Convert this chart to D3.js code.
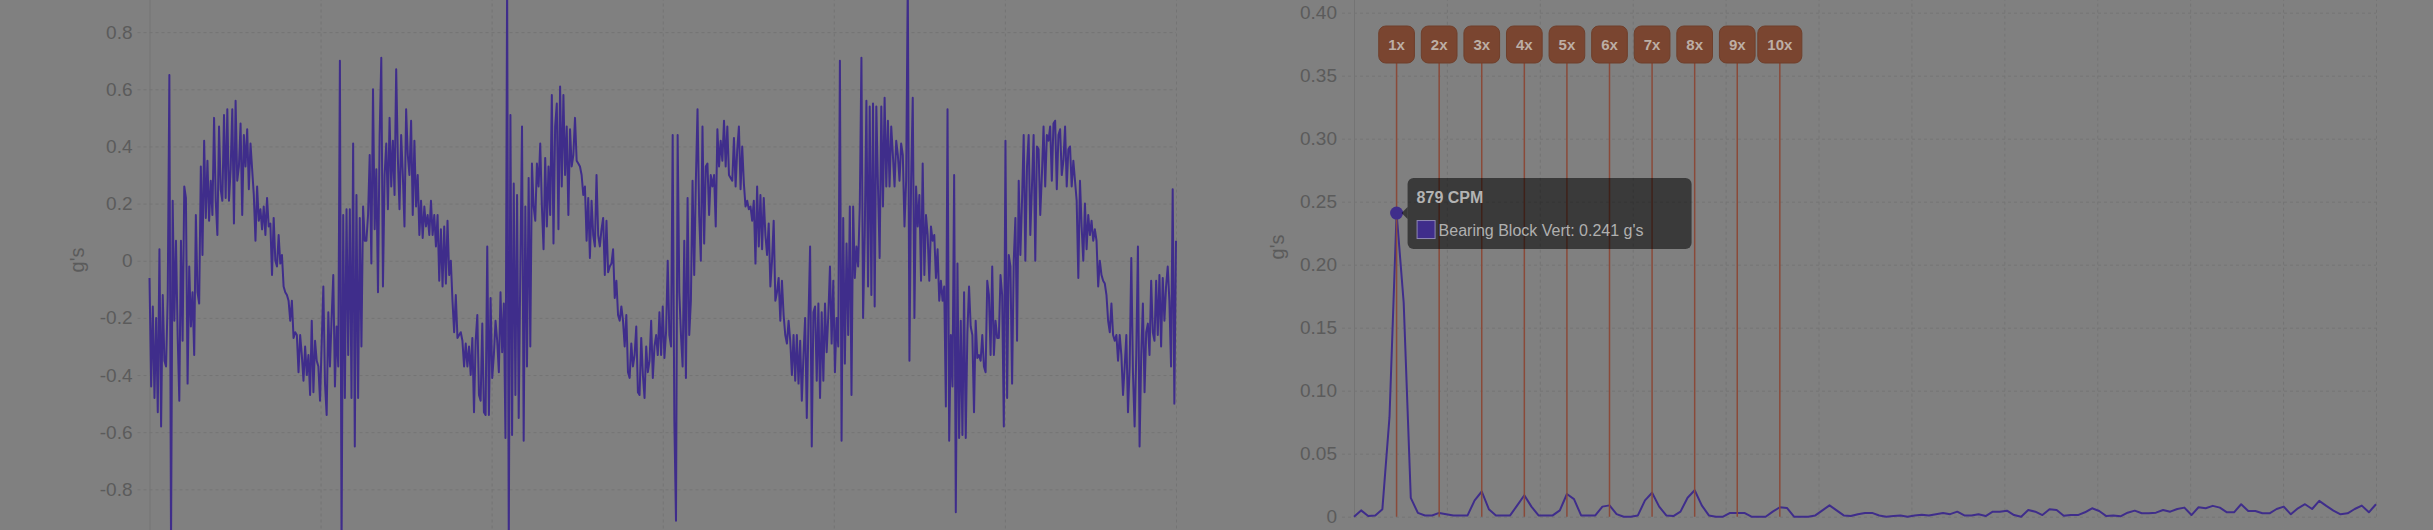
<!DOCTYPE html>
<html>
<head>
<meta charset="utf-8">
<script src="https://cdn.jsdelivr.net/npm/d3@7"></script>
<style>
  html, body { margin: 0; padding: 0; background: #808080; overflow: hidden; }
  svg { display: block; font-family: 'Liberation Sans', Arial, Helvetica, sans-serif; }
</style>
</head>
<body>
<div id="chart"></div>
<script>
// Time waveform, g's in four stretches (left to right)
var waveA = [-0.06,-0.44,-0.16,-0.48,-0.20,-0.53,0.04,-0.58,-0.12,-0.35,
  -0.37,-0.13,0.65,-1.0,0.21,-0.21,0.07,-0.26,-0.49,0.07,
  -0.28,0.26,0.22,-0.43,-0.02,-0.23,-0.11,-0.33,0.16,-0.11,
  -0.15,0.33,0.02,0.42,0.15,0.35,0.14,0.28,0.16,0.50,
  0.21,0.09,0.47,0.25,0.21,0.51,0.22,0.53,0.21,0.32,
  0.53,0.13,0.56,0.28,0.33,0.48,0.16,0.44,0.33,0.46,
  0.25,0.41,0.32,0.23,0.07,0.26,0.14,0.18,0.11,0.19,
  0.09,0.22,0.12,0.13,-0.05,0.15,0.0,-0.02,0.09,-0.01,
  0.02,-0.09,-0.11,-0.12,-0.14,-0.21,-0.14,-0.27,-0.25,-0.26,
  -0.39,-0.26,-0.33,-0.42,-0.30,-0.40,-0.33,-0.47,-0.21,-0.46,
  -0.28,-0.35,-0.37,-0.49,-0.29,-0.09,-0.43,-0.54,-0.18,-0.37,
  -0.20,-0.05,-0.44,-0.23,-0.37,0.70,-1.0,0.16,-0.48,0.18,
  -0.33,0.18,-0.48,0.41,-0.65,0.23,-0.48,0.15,-0.30,0.19,
  0.07,0.07,0.16,0.37,-0.01,0.60,0.11,0.32,-0.11,0.44,
  0.71,-0.09,0.30,0.41,0.18,0.50,0.26,0.42,0.23,0.67,
  0.36,0.18,0.44,0.30,0.12,0.53,0.37,0.30]

var waveB = [0.49,0.16,0.42,0.19,0.30,0.09,0.21,0.08,0.19,0.12,
  0.16,0.09,0.21,0.09,0.16,0.05,0.16,-0.07,0.11,-0.09,
  0.12,-0.08,0.14,-0.05,0.0,-0.14,-0.25,-0.12,-0.27,-0.26,
  -0.25,-0.28,-0.37,-0.29,-0.37,-0.30,-0.40,-0.27,-0.53,-0.28,
  -0.19,-0.47,-0.49,-0.22,-0.53,-0.54,0.05,-0.54,-0.13,-0.41,
  -0.33,-0.21,-0.28,-0.39,-0.11,-0.32,-0.15,-0.62,0.98,-1.0,
  0.51,-0.61,0.27,-0.47,0.23,-0.55,-0.02,0.47,-0.63,0.19,
  -0.37,0.29,-0.30,0.34,0.19,0.14,0.34,0.26,0.41,0.19,
  0.04,0.36,0.12,0.33,0.16,0.58,0.06,0.47,0.55,0.11,
  0.61,0.26,0.58,0.30,0.47,0.16,0.46,0.33,0.37,0.50,
  0.35,0.34,0.33,0.30,0.23,0.26,0.07,0.22,0.01,0.21,
  0.09,0.05,0.30,0.09,0.05,0.11,0.15,-0.05,0.14,-0.04,
  -0.02,-0.01,0.04,-0.13,-0.07,-0.19,-0.21,-0.16,-0.21,-0.30,
  -0.19,-0.39,-0.41,-0.29,-0.37,-0.33,-0.23,-0.46,-0.47,-0.27,
  -0.40,-0.48,-0.30,-0.39,-0.35,-0.21,-0.41,-0.30,-0.26,-0.33,
  -0.18,-0.33,-0.16,-0.34,-0.25,0.0,-0.26]

var waveC = [-0.30,0.44,-0.56,-0.91,0.44,-0.11,-0.26,-0.37,0.07,-0.41,
  0.22,-0.26,-0.14,0.28,-0.05,0.28,0.53,0.16,0.0,0.47,
  0.06,0.33,0.34,0.16,0.30,0.26,0.30,0.12,0.46,0.33,
  0.42,0.35,0.49,0.33,0.47,0.30,0.29,0.28,0.43,0.26,
  0.39,0.47,0.25,0.40,0.27,0.19,0.21,0.18,0.19,0.14,
  0.21,-0.01,0.26,0.05,0.23,0.04,0.22,0.09,0.02,0.13,
  -0.09,0.0,0.14,-0.14,-0.11,-0.06,-0.21,-0.07,-0.19,-0.26,
  -0.29,-0.21,-0.28,-0.40,-0.26,-0.42,-0.26,-0.43,-0.28,-0.49,
  -0.33,-0.20,-0.55,-0.21,0.05,-0.65,-0.18,-0.16,-0.42,-0.15,
  -0.48,-0.18,-0.42,-0.15,-0.32,-0.19,-0.02,-0.29,-0.07,-0.39,
  -0.20,-0.30,0.70,-0.63,0.15,-0.36,0.06,-0.26,0.19,-0.47,
  0.19,-0.06,0.05,-0.02,0.19,0.71,-0.20,0.09,0.56,-0.09,
  0.54,-0.12,0.55,-0.16,0.54,0.26,0.01,0.54,0.19,0.57,
  0.26,0.49,0.26,0.47,0.37,0.26,0.42,0.37,0.28,0.41,
  0.37,0.12,0.28,0.98,-0.35,0.28,0.57,-0.20,0.26,0.12,
  0.23,-0.07,0.34,-0.05,0.16,0.09]

var waveD = [-0.07,0.12,0.07,0.09,-0.06,0.04,-0.14,-0.07,-0.14,-0.09,
  -0.51,0.53,-0.63,-0.26,-0.44,0.30,-0.88,-0.01,-0.62,-0.21,
  -0.61,-0.11,-0.62,-0.25,-0.09,-0.23,-0.26,-0.53,-0.21,-0.34,
  -0.33,-0.35,-0.26,-0.37,-0.39,-0.07,-0.12,-0.33,-0.02,-0.33,
  -0.21,-0.27,-0.27,-0.05,-0.12,-0.58,0.42,-0.48,0.02,-0.02,
  -0.43,0.0,0.15,-0.28,0.28,0.02,0.21,0.44,0.0,0.33,
  0.44,0.09,0.26,0.44,0.0,0.40,0.39,0.16,0.30,0.47,
  0.26,0.44,0.42,0.47,0.28,0.48,0.49,0.25,0.44,0.46,
  0.30,0.35,0.47,0.26,0.39,0.40,0.26,0.35,0.28,0.21,
  -0.06,0.28,0.12,0.0,0.20,0.04,0.16,0.09,0.14,0.07,
  0.11,0.07,-0.09,0.0,-0.05,-0.07,-0.08,-0.12,-0.21,-0.25,
  -0.15,-0.26,-0.28,-0.26,-0.35,-0.26,-0.33,-0.47,-0.37,-0.26,
  -0.53,-0.37,0.01,-0.39,-0.58,-0.33,0.05,-0.65,-0.33,-0.15,
  -0.46,-0.25,-0.22,-0.33,-0.07,-0.25,-0.28,-0.07,-0.26,-0.05,
  -0.30,-0.06,-0.21,-0.09,-0.02,-0.14,-0.37,0.25,-0.50,0.07]

// Spectrum amplitudes, g's, one value per bin
var spectrum = [0.0,0.005,0.0005,0.001,0.006,0.079,0.241,0.17,0.015,0.003,
  0.001,0.001,0.003,0.002,0.001,0.001,0.001,0.013,0.020,0.006,
  0.001,0.001,0.001,0.009,0.017,0.008,0.001,0.001,0.001,0.005,
  0.018,0.014,0.001,0.001,0.001,0.008,0.009,0.002,0.0,0.0,
  0.001,0.013,0.019,0.008,0.001,0.0005,0.004,0.015,0.021,0.009,
  0.001,0.0,0.0,0.003,0.003,0.003,0.0,0.0,0.0,0.004,
  0.0075,0.007,0.0,0.0,0.0,0.001,0.005,0.009,0.005,0.001,
  0.0005,0.002,0.003,0.003,0.001,0.0,0.0005,0.001,0.0,0.001,
  0.0015,0.001,0.002,0.003,0.002,0.004,0.001,0.001,0.002,0.0005,
  0.004,0.004,0.0048,0.0013,0.0,0.0053,0.004,0.0013,0.0059,0.0053,
  0.0008,0.0013,0.0013,0.0035,0.0067,0.0045,0.0005,0.001,0.0003,0.0032,
  0.0048,0.0027,0.0027,0.0032,0.0053,0.004,0.0061,0.0072,0.0013,0.0075,
  0.0067,0.0086,0.0072,0.0035,0.0035,0.0099,0.0045,0.0045,0.0027,0.0027,
  0.0061,0.008,0.0019,0.0067,0.0099,0.0061,0.0126,0.0086,0.0048,0.0019,
  0.0027,0.0061,0.0088,0.0035,0.0099]
var binCPM = 146.5

// Running speed and harmonic markers
var runSpeed = 879
var harmonics = ['1x', '2x', '3x', '4x', '5x', '6x', '7x', '8x', '9x', '10x']

// Axis ticks (the +/-1 lines fall outside the visible window)
var waveTicks = [-0.8, -0.6, -0.4, -0.2, 0, 0.2, 0.4, 0.6, 0.8]
var specTicks = [0, 0.05, 0.1, 0.15, 0.2, 0.25, 0.3, 0.35, 0.4]
var unitLabel = "g's"

// Tooltip
var seriesName = 'Bearing Block Vert'
var tipBin = 6

var wave = waveA.concat(waveB, waveC, waveD)

var W = 2433
var H = 530
var lineColor = '#3f2d8b'
var textColor = '#5b5b5b'
var gridColor = '#747474'

var svg = d3
  .select('#chart')
  .append('svg')
  .attr('width', W)
  .attr('height', H)

svg
  .append('rect')
  .attr('width', W)
  .attr('height', H)
  .attr('fill', '#808080')

// ---------- left: time waveform ----------
var xWave = d3
  .scaleLinear()
  .domain([0, wave.length - 1])
  .range([149.5, 1176])

var yWave = d3
  .scaleLinear()
  .domain([-1, 1])
  .range([546.5, -25])

var waveG = svg.append('g')

// horizontal grid + labels
var yAxisL = d3
  .axisLeft(yWave)
  .tickValues(waveTicks)
  .tickSize(-(1176 - 149.5))
  .tickPadding(17)
  .tickFormat(d => (d === 0 ? '0' : String(+d.toFixed(1))))

waveG
  .append('g')
  .attr('transform', 'translate(149.5,0)')
  .call(yAxisL)
  .call(g => g.select('.domain').remove())
  .call(g =>
    g
      .selectAll('.tick line')
      .attr('x1', -12)
      .attr('stroke', gridColor)
      .attr('stroke-dasharray', '3,3')
  )
  .call(g =>
    g
      .selectAll('.tick text')
      .attr('fill', textColor)
      .attr('font-size', 19)
      .attr('font-family', null)
  )

// vertical grid
var xAxisL = d3
  .axisBottom(xWave)
  .tickValues(d3.range(7).map(k => (k * (wave.length - 1)) / 6))
  .tickSize(-(546.5 + 30))
  .tickFormat('')

waveG
  .append('g')
  .attr('transform', 'translate(0,546.5)')
  .call(xAxisL)
  .call(g => g.select('.domain').remove())
  .call(g =>
    g
      .selectAll('.tick line')
      .attr('stroke', gridColor)
      .attr('stroke-dasharray', (d, i) => (i === 0 ? null : '3,3'))
  )

waveG
  .append('text')
  .text(unitLabel)
  .attr('transform', 'translate(77,260) rotate(-90)')
  .attr('text-anchor', 'middle')
  .attr('dominant-baseline', 'central')
  .attr('font-size', 20)
  .attr('fill', textColor)

var waveLine = d3
  .line()
  .x((d, i) => xWave(i))
  .y(d => yWave(d))

waveG
  .append('path')
  .datum(wave)
  .attr('d', waveLine)
  .attr('fill', 'none')
  .attr('stroke', lineColor)
  .attr('stroke-width', 2)
  .attr('stroke-linejoin', 'round')

// ---------- right: spectrum ----------
var maxCPM = (spectrum.length - 1) * binCPM

var xSpec = d3
  .scaleLinear()
  .domain([0, maxCPM])
  .range([1354, 2376])

var ySpec = d3
  .scaleLinear()
  .domain([0, 0.4])
  .range([516.7, 12.7])

var specG = svg.append('g')

var yAxisR = d3
  .axisLeft(ySpec)
  .tickValues(specTicks)
  .tickSize(-(2376 - 1354))
  .tickPadding(17)
  .tickFormat(d => (d === 0 ? '0' : d.toFixed(2)))

specG
  .append('g')
  .attr('transform', 'translate(1354,0)')
  .call(yAxisR)
  .call(g => g.select('.domain').remove())
  .call(g =>
    g
      .selectAll('.tick line')
      .attr('x1', -12)
      .attr('stroke', gridColor)
      .attr('stroke-dasharray', '3,3')
  )
  .call(g =>
    g
      .selectAll('.tick text')
      .attr('fill', textColor)
      .attr('font-size', 19)
      .attr('font-family', null)
  )

var xAxisR = d3
  .axisBottom(xSpec)
  .tickValues(d3.range(12).map(k => (k * maxCPM) / 11))
  .tickSize(-(516.7 + 30))
  .tickFormat('')

specG
  .append('g')
  .attr('transform', 'translate(0,516.7)')
  .call(xAxisR)
  .call(g => g.select('.domain').remove())
  .call(g =>
    g
      .selectAll('.tick line')
      .attr('stroke', gridColor)
      .attr('stroke-dasharray', (d, i) => (i === 0 ? null : '3,3'))
  )

specG
  .append('text')
  .text(unitLabel)
  .attr('transform', 'translate(1277,247) rotate(-90)')
  .attr('text-anchor', 'middle')
  .attr('dominant-baseline', 'central')
  .attr('font-size', 20)
  .attr('fill', textColor)

var specLine = d3
  .line()
  .x((d, i) => xSpec(i * binCPM))
  .y(d => ySpec(d))

specG
  .append('path')
  .datum(spectrum)
  .attr('d', specLine)
  .attr('fill', 'none')
  .attr('stroke', lineColor)
  .attr('stroke-width', 2)
  .attr('stroke-linejoin', 'round')

// harmonic marker lines
var boxTop = 26
var boxH = 37

specG
  .selectAll('.harmonic-line')
  .data(harmonics)
  .enter()
  .append('line')
  .attr('class', 'harmonic-line')
  .attr('x1', (d, i) => xSpec((i + 1) * runSpeed))
  .attr('x2', (d, i) => xSpec((i + 1) * runSpeed))
  .attr('y1', boxTop + boxH)
  .attr('y2', ySpec(0))
  .attr('stroke', '#8a4a39')
  .attr('stroke-width', 1.5)

// highlighted point
var tipX = xSpec(tipBin * binCPM)
var tipY = ySpec(spectrum[tipBin])

specG
  .append('circle')
  .attr('cx', tipX)
  .attr('cy', tipY)
  .attr('r', 6.5)
  .attr('fill', lineColor)

// harmonic labels
var labels = specG
  .selectAll('.harmonic-label')
  .data(harmonics)
  .enter()
  .append('g')
  .attr('class', 'harmonic-label')
  .attr('transform', (d, i) => 'translate(' + xSpec((i + 1) * runSpeed) + ',0)')

labels.append('rect')

labels
  .append('text')
  .text(d => d)
  .attr('x', 0)
  .attr('y', boxTop + boxH / 2)
  .attr('text-anchor', 'middle')
  .attr('dominant-baseline', 'central')
  .attr('font-size', 15)
  .attr('font-weight', 'bold')
  .attr('fill', '#bcaea5')

labels.each(function() {
  var g = d3.select(this)
  var w = g.select('text').node().getComputedTextLength() + 19
  g.select('rect')
    .attr('x', -w / 2)
    .attr('y', boxTop)
    .attr('width', w)
    .attr('height', boxH)
    .attr('rx', 7)
    .attr('fill', '#7a4530')
    .attr('stroke', '#6f3f2b')
})

// tooltip
var tipLeft = tipX + 11
var tipTop = tipY - 35
var tipW = 284
var tipH = 71

var tip = specG.append('g')

tip
  .append('rect')
  .attr('x', tipLeft)
  .attr('y', tipTop)
  .attr('width', tipW)
  .attr('height', tipH)
  .attr('rx', 6)
  .attr('fill', 'rgba(0,0,0,0.55)')

tip
  .append('path')
  .attr('d', 'M' + tipLeft + ',' + (tipY - 6) + 'L' + (tipLeft - 6) + ',' + tipY + 'L' + tipLeft + ',' + (tipY + 6) + 'Z')
  .attr('fill', 'rgba(0,0,0,0.55)')

tip
  .append('text')
  .text(Math.round(tipBin * binCPM) + ' CPM')
  .attr('x', tipLeft + 9)
  .attr('y', tipTop + 25)
  .attr('font-size', 16)
  .attr('font-weight', 'bold')
  .attr('fill', '#b3b3b3')

tip
  .append('rect')
  .attr('x', tipLeft + 9.5)
  .attr('y', tipTop + 42.5)
  .attr('width', 18)
  .attr('height', 18)
  .attr('fill', lineColor)
  .attr('stroke', '#8f88b4')
  .attr('stroke-width', 1)

tip
  .append('text')
  .text(seriesName + ': ' + spectrum[tipBin].toFixed(3) + ' ' + unitLabel)
  .attr('x', tipLeft + 31)
  .attr('y', tipTop + 58)
  .attr('font-size', 16)
  .attr('fill', '#b0b0b0')
</script>
</body>
</html>
